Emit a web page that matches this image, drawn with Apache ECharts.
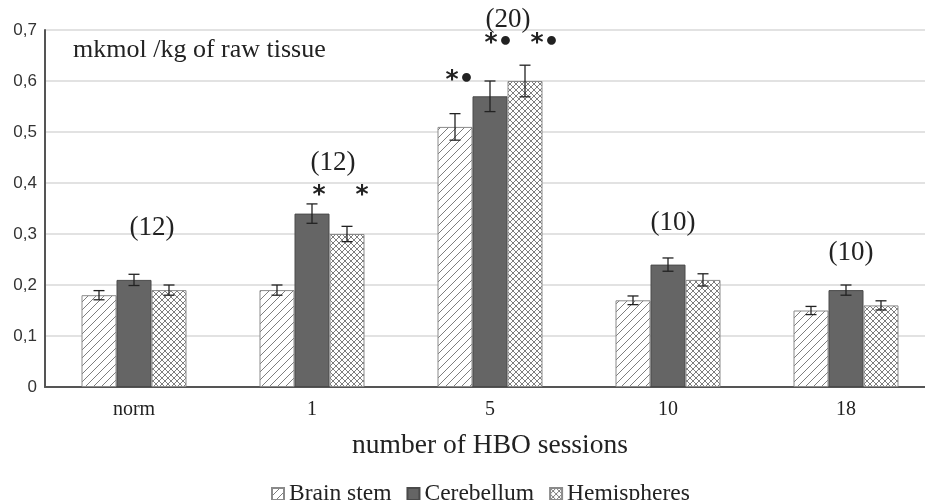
<!DOCTYPE html>
<html>
<head>
<meta charset="utf-8">
<script src="https://cdn.jsdelivr.net/npm/echarts@6/dist/echarts.min.js"></script>
<style>
  html, body { margin: 0; padding: 0; background: #fff; }
  #chart { width: 925px; height: 500px; }
</style>
</head>
<body>
<div id="chart"></div>
<script>
const categories = ['norm', '1', '5', '10', '18']
const seriesNames = ['Brain stem', 'Cerebellum', 'Hemispheres']
const brainStem = [0.18, 0.19, 0.51, 0.17, 0.15]
const cerebellum = [0.21, 0.34, 0.57, 0.24, 0.19]
const hemispheres = [0.19, 0.30, 0.60, 0.21, 0.16]
const brainStemErr = [0.009, 0.01, 0.026, 0.0085, 0.008]
const cerebellumErr = [0.011, 0.019, 0.03, 0.013, 0.01]
const hemispheresErr = [0.01, 0.015, 0.031, 0.012, 0.009]
// group size labels: text and height (in axis units)
const groupSizes = ['(12)', '(12)', '(20)', '(10)', '(10)']
const groupSizeY = [0.311, 0.439, 0.719, 0.321, 0.262]
// significance marks: [category index, series index, height, text]
const signMarks = [
  [1, 1, 0.376, '*'],
  [1, 2, 0.376, '*'],
  [2, 0, 0.601, '*•'],
  [2, 1, 0.674, '*•'],
  [2, 2, 0.674, '*•']
]
const yTicks = ['0', '0,1', '0,2', '0,3', '0,4', '0,5', '0,6', '0,7']

const BAR_W = 35
const groupDx = [18, 21, 18, 5, 5]
const signDx = [[0, 0, 0], [0, 7, 15], [5, 9, 20]]

const makePattern = (type) => {
  const c = document.createElement('canvas')
  const s = type === 'hatch' ? 8 : 6
  c.width = s; c.height = s
  const ctx = c.getContext('2d')
  ctx.fillStyle = '#ffffff'
  ctx.fillRect(0, 0, s, s)
  ctx.strokeStyle = '#7e7e7e'
  ctx.lineWidth = 1
  ctx.beginPath()
  ctx.moveTo(-1, s + 1); ctx.lineTo(s + 1, -1)
  ctx.moveTo(-1, 1); ctx.lineTo(1, -1)
  ctx.moveTo(s - 1, s + 1); ctx.lineTo(s + 1, s - 1)
  if (type === 'cross') {
    ctx.moveTo(-1, -1); ctx.lineTo(s + 1, s + 1)
    ctx.moveTo(s - 1, -1); ctx.lineTo(s + 1, 1)
    ctx.moveTo(-1, s - 1); ctx.lineTo(1, s + 1)
  }
  ctx.stroke()
  return { image: c, repeat: 'repeat' }
}

const hatch = makePattern('hatch')
const cross = makePattern('cross')

const errData = []
;[brainStem, cerebellum, hemispheres].forEach((vals, si) => {
  const errs = [brainStemErr, cerebellumErr, hemispheresErr][si]
  vals.forEach((v, ci) => errData.push([ci, si, v - errs[ci], v + errs[ci]]))
})

const chart = echarts.init(document.getElementById('chart'))

const option = {
  animation: false,
  grid: { left: 45, width: 890, top: 30, height: 357, outerBoundsMode: 'none' },
  legend: {
    data: seriesNames,
    top: 477,
    left: 266,
    icon: 'rect',
    itemWidth: 12,
    itemHeight: 12,
    itemGap: 15,
    textStyle: { fontFamily: 'Liberation Serif', fontSize: 23.5, color: '#222' }
  },
  xAxis: {
    type: 'category',
    data: categories,
    name: 'number of HBO sessions',
    nameLocation: 'middle',
    nameGap: 45,
    nameTextStyle: { fontFamily: 'Liberation Serif', fontSize: 27.5, color: '#222' },
    axisLine: { lineStyle: { color: '#555', width: 2 } },
    axisTick: { show: false },
    axisLabel: { fontFamily: 'Liberation Serif', fontSize: 20, color: '#222', margin: 13 }
  },
  yAxis: {
    type: 'value',
    min: 0,
    max: 0.7,
    interval: 0.1,
    axisLine: { show: true, lineStyle: { color: '#555', width: 2 } },
    axisTick: { show: false },
    axisLabel: {
      fontFamily: 'Liberation Sans',
      fontSize: 17,
      color: '#333',
      margin: 8,
      formatter: (v) => yTicks[Math.round(v * 10)]
    },
    splitLine: { lineStyle: { color: '#d9d9d9', width: 1.5 } }
  },
  graphic: [{
    type: 'text',
    left: 73,
    top: 37,
    style: { text: 'mkmol /kg of raw tissue', fontFamily: 'Liberation Serif', fontSize: 26, fill: '#222' }
  }],
  series: [
    {
      name: 'Brain stem', type: 'bar', data: brainStem, barWidth: BAR_W, barGap: '0%',
      itemStyle: { color: hatch, borderColor: '#8a8a8a', borderWidth: 1 }
    },
    {
      name: 'Cerebellum', type: 'bar', data: cerebellum, barWidth: BAR_W, barGap: '0%',
      itemStyle: { color: '#656565', borderColor: '#4a4a4a', borderWidth: 1 }
    },
    {
      name: 'Hemispheres', type: 'bar', data: hemispheres, barWidth: BAR_W, barGap: '0%',
      itemStyle: { color: cross, borderColor: '#8a8a8a', borderWidth: 1 }
    },
    {
      type: 'custom',
      name: 'errors',
      z: 10,
      data: errData,
      renderItem: (params, api) => {
        const ci = api.value(0)
        const si = api.value(1)
        const lo = api.coord([ci, api.value(2)])
        const hi = api.coord([ci, api.value(3)])
        const x = lo[0] + (si - 1) * BAR_W
        const cap = 5.5
        const st = { stroke: '#222', lineWidth: 1.3 }
        return {
          type: 'group',
          children: [
            { type: 'line', shape: { x1: x, y1: lo[1], x2: x, y2: hi[1] }, style: st },
            { type: 'line', shape: { x1: x - cap, y1: lo[1], x2: x + cap, y2: lo[1] }, style: st },
            { type: 'line', shape: { x1: x - cap, y1: hi[1], x2: x + cap, y2: hi[1] }, style: st }
          ]
        }
      }
    },
    {
      type: 'custom',
      name: 'groups',
      z: 11,
      clip: false,
      data: groupSizes.map((t, i) => [i, groupSizeY[i], t]),
      renderItem: (params, api) => {
        const i = params.dataIndex
        const p = api.coord([i, api.value(1)])
        return {
          type: 'text',
          x: p[0] + groupDx[i],
          y: p[1],
          style: {
            text: groupSizes[i], fontFamily: 'Liberation Serif', fontSize: 27,
            fill: '#222', align: 'center', verticalAlign: 'middle'
          }
        }
      }
    },
    {
      type: 'custom',
      name: 'signs',
      z: 11,
      clip: false,
      data: signMarks.map((m) => [m[0], m[1], m[2]]),
      renderItem: (params, api) => {
        const m = signMarks[params.dataIndex]
        const p = api.coord([m[0], m[2]])
        return {
          type: 'text',
          x: p[0] + (m[1] - 1) * BAR_W + signDx[m[0]][m[1]],
          y: p[1],
          style: {
            text: m[3], fontFamily: 'DejaVu Sans', fontSize: 25, fontWeight: 'bold',
            fill: '#222', align: 'center', verticalAlign: 'middle'
          }
        }
      }
    }
  ]
}

chart.setOption(option)
</script>
</body>
</html>
